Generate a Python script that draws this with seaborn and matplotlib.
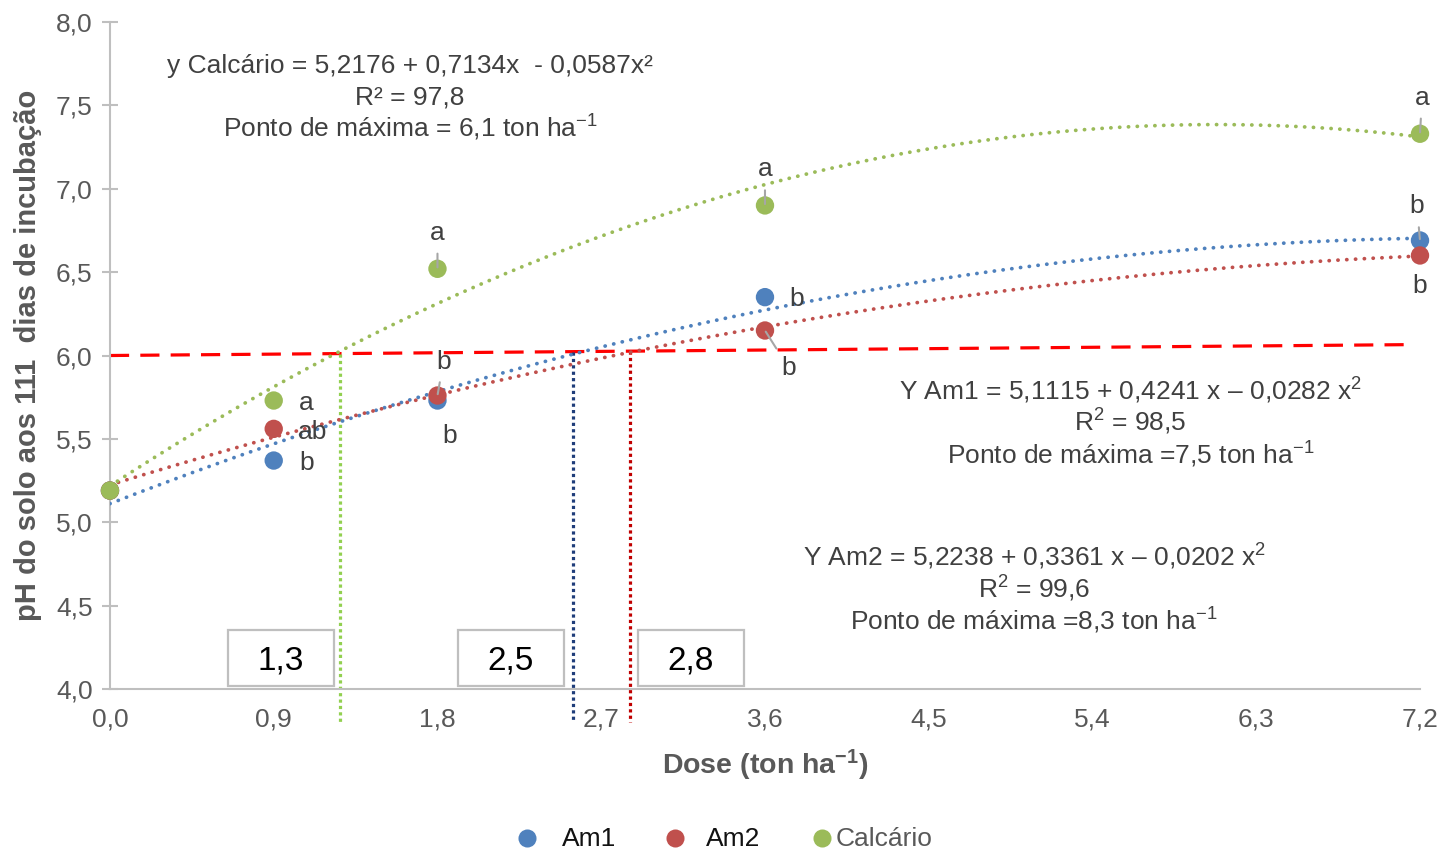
import numpy as np
import pandas as pd
import matplotlib
matplotlib.use("Agg")
import matplotlib.pyplot as plt
import seaborn as sns
from matplotlib.patches import Rectangle
from matplotlib.lines import Line2D

# ---------------- data ----------------
doses = [0.0, 0.9, 1.8, 3.6, 7.2]
series_names = ["Am1", "Am2", "Calcário"]
ph_am1 = [5.19, 5.37, 5.73, 6.35, 6.69]
ph_am2 = [5.19, 5.56, 5.76, 6.15, 6.60]
ph_calc = [5.19, 5.73, 6.52, 6.90, 7.33]
letters_am1 = ["", "b", "b", "b", "b"]
letters_am2 = ["", "ab", "b", "b", "b"]
letters_calc = ["", "a", "a", "a", "a"]
coef_am1 = [5.1115, 0.4241, -0.0282]
coef_am2 = [5.2238, 0.3361, -0.0202]
coef_calc = [5.2176, 0.7134, -0.0587]
ref_line_x = [0.0, 7.12]
ref_line_y = [6.00, 6.065]
cross_doses = [1.265, 2.545, 2.86]
cross_labels = ["1,3", "2,5", "2,8"]
xticks = [0.0, 0.9, 1.8, 2.7, 3.6, 4.5, 5.4, 6.3, 7.2]
yticks = [4.0, 4.5, 5.0, 5.5, 6.0, 6.5, 7.0, 7.5, 8.0]

SUPM1 = r"$^{\mathregular{-1}}$"
eq_calc = ["y Calcário = 5,2176 + 0,7134x  - 0,0587x²", "R² = 97,8",
           "Ponto de máxima = 6,1 ton ha" + SUPM1]
eq_am1 = [r"Y Am1 = 5,1115 + 0,4241 x – 0,0282 x$^{\mathregular{2}}$", r"R$^{\mathregular{2}}$ = 98,5",
          "Ponto de máxima =7,5 ton ha" + SUPM1]
eq_am2 = [r"Y Am2 = 5,2238 + 0,3361 x – 0,0202 x$^{\mathregular{2}}$", r"R$^{\mathregular{2}}$ = 99,6",
          "Ponto de máxima =8,3 ton ha" + SUPM1]

# ---------------- style ----------------
sns.set_style("white")
plt.rcParams["font.family"] = ["Liberation Sans", "DejaVu Sans"]
plt.rcParams["mathtext.fontset"] = "custom"
plt.rcParams["mathtext.rm"] = "Liberation Sans"
plt.rcParams["mathtext.it"] = "Liberation Sans:italic"
plt.rcParams["mathtext.bf"] = "Liberation Sans:bold"

colors = {"Am1": "#4F81BD", "Am2": "#C0504D", "Calcário": "#9BBB59"}
vcolors = ["#92D050", "#1F3D7A", "#C00000"]
TXT = "#404040"
TICK = "#595959"
AX = "#BFBFBF"
FS = 19

df = pd.DataFrame({
    "dose": doses * 3,
    "ph": ph_am1 + ph_am2 + ph_calc,
    "serie": sum([[n] * len(doses) for n in series_names], []),
})
xs = np.linspace(0, 7.2, 300)
coefs = {"Am1": coef_am1, "Am2": coef_am2, "Calcário": coef_calc}
trend = pd.DataFrame({
    "dose": np.tile(xs, 3),
    "ph": np.concatenate([coefs[n][0] + coefs[n][1] * xs + coefs[n][2] * xs ** 2 for n in series_names]),
    "serie": np.repeat(series_names, len(xs)),
})

fig = plt.figure(figsize=(14.45, 8.51), dpi=100)
ax = fig.add_axes([0.0761, 0.1904, 0.9066, 0.7837])

# trend lines
for n in series_names:
    sub = trend[trend.serie == n]
    sns.lineplot(data=sub, x="dose", y="ph", ax=ax, color=colors[n], lw=2.7,
                 linestyle=(0, (0.05, 2.3)), dash_capstyle="round", legend=False, zorder=3)

# reference line
sns.lineplot(x=ref_line_x, y=ref_line_y, ax=ax, color="#FF0000", lw=2.3,
             linestyle=(0, (6, 3.5)), legend=False, zorder=2)

# vertical dotted lines from crossing points
for xd, c in zip(cross_doses, vcolors):
    yt = np.interp(xd, ref_line_x, ref_line_y)
    ax.plot([xd, xd], [yt, 3.8], color=c, lw=2.3, linestyle=(0, (1, 1)),
            clip_on=False, zorder=2)

# points
sns.scatterplot(data=df, x="dose", y="ph", hue="serie", palette=colors, s=175,
                edgecolor="none", ax=ax, legend=False, zorder=5, clip_on=False)

# letters
offs = {
    "Am1": [None, (33, 2, False), (12, 35, False), (32, 2, False), (-3, -34, True)],
    "Am2": [None, (39, 3, False), (6, -34, True), (24, 38, True), (0, 31, False)],
    "Calcário": [None, (33, 2, False), (0, -36, True), (0, -36, True), (2, -36, True)],
}
letters = {"Am1": letters_am1, "Am2": letters_am2, "Calcário": letters_calc}
vals = {"Am1": ph_am1, "Am2": ph_am2, "Calcário": ph_calc}
for n in series_names:
    for i, x in enumerate(doses):
        if not letters[n][i]:
            continue
        dx, dy, lead = offs[n][i]
        kw = {}
        if lead:
            kw["arrowprops"] = dict(arrowstyle="-", color="#A6A6A6", lw=1.5,
                                    shrinkA=4, shrinkB=1)
        ax.annotate(letters[n][i], xy=(x, vals[n][i]), xytext=(dx, -dy),
                    textcoords="offset pixels", ha="center", va="center",
                    fontsize=FS, color=TXT, zorder=6, annotation_clip=False, **kw)

# equation texts
for lines, (xc, ys) in zip([eq_calc, eq_am1, eq_am2],
                           [(1.65, [7.736, 7.55, 7.366]),
                            (5.61, [5.79, 5.60, 5.405]),
                            (5.08, [4.79, 4.60, 4.41])]):
    for t, yy in zip(lines, ys):
        ax.text(xc, yy, t, ha="center", va="center", fontsize=FS, color=TXT)

# boxes
for (x0, x1), lab in zip([(0.6486, 1.2312), (1.9127, 2.4953), (2.902, 3.4846)], cross_labels):
    ax.add_patch(Rectangle((x0, 4.018), x1 - x0, 0.336, fill=True, facecolor="white",
                           edgecolor=AX, lw=1.6, zorder=4))
    ax.text((x0 + x1) / 2, 4.165, lab, ha="center", va="center", fontsize=24,
            color="black", zorder=5)

# axes
ax.set_xlim(0, 7.2)
ax.set_ylim(4.0, 8.0)
ax.set_xticks(xticks)
ax.set_xticklabels([f"{v:.1f}".replace(".", ",") for v in xticks])
ax.set_yticks(yticks)
ax.set_yticklabels([f"{v:.1f}".replace(".", ",") for v in yticks])
ax.tick_params(axis="x", length=0, pad=13, labelsize=FS, labelcolor=TICK)
ax.tick_params(axis="y", direction="inout", length=11, width=1.5, color=AX,
               pad=7, labelsize=FS, labelcolor=TICK, left=True)
for s in ["top", "right"]:
    ax.spines[s].set_visible(False)
for s in ["left", "bottom"]:
    ax.spines[s].set_color(AX)
    ax.spines[s].set_linewidth(1.5)
ax.grid(False)
ax.set_xlabel("Dose (ton ha" + SUPM1 + ")", fontsize=20.5, fontweight="bold",
              color=TICK, labelpad=12)
ax.set_ylabel("pH do solo aos 111  dias de incubação", fontsize=21, fontweight="bold",
              color=TICK, labelpad=10)

# legend (placed manually to match spacing of the original)
W, H = 1445.0, 851.0
marker_px = [527, 675, 822]
text_px = [562, 706, 836]
text_cols = ["#111111", "#111111", TICK]
for n, mx, tx, tc in zip(series_names, marker_px, text_px, text_cols):
    fig.add_artist(Line2D([mx / W], [1 - 838 / H], marker="o", ls="none", markersize=13,
                          color=colors[n], markeredgewidth=0, transform=fig.transFigure))
    fig.text(tx / W, 1 - 839 / H, n, ha="left", va="center", fontsize=FS, color=tc)

fig.savefig("out.png", dpi=100)
